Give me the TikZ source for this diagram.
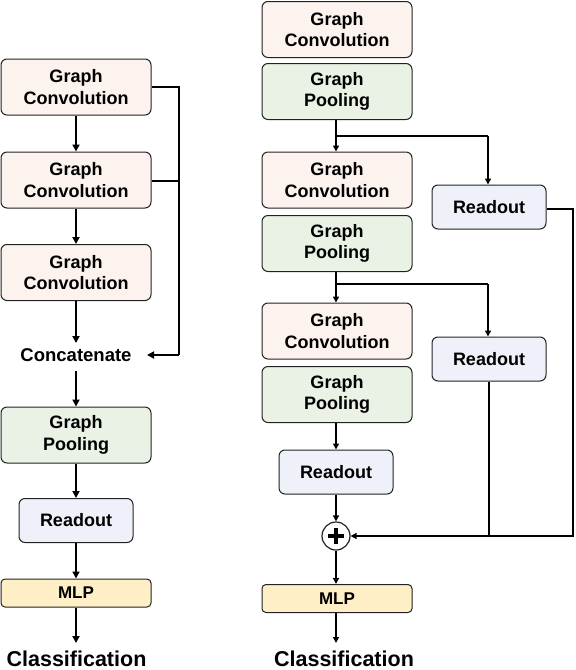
\documentclass[tikz,border=0pt]{standalone}
\usepackage{fontspec}
\setmainfont{Liberation Sans}
\usetikzlibrary{arrows.meta}
\definecolor{convc}{HTML}{FCF3EE}
\definecolor{poolc}{HTML}{EAF2E6}
\definecolor{readc}{HTML}{EEF1F9}
\definecolor{mlpc}{HTML}{FEEFC6}
\definecolor{edgec}{HTML}{222222}
\begin{document}
\begin{tikzpicture}[x=1pt,y=-1pt,
  blk/.style={draw=edgec,line width=1pt,rounded corners=6pt,align=center,inner sep=0pt,
    font=\fontsize{18}{21.5}\selectfont\bfseries},
  conv/.style={blk,fill=convc,minimum width=150pt,minimum height=56pt},
  pool/.style={blk,fill=poolc,minimum width=150pt,minimum height=56pt},
  rd/.style={blk,fill=readc,minimum width=114pt,minimum height=44pt},
  mlp/.style={blk,fill=mlpc,minimum width=150pt,minimum height=28pt,rounded corners=4pt,
    font=\fontsize{17}{18}\selectfont\bfseries},
  lbl/.style={inner sep=0pt,outer sep=0pt,font=\fontsize{18.5}{21}\selectfont\bfseries},
  cls/.style={inner sep=0pt,anchor=base,font=\fontsize{21.5}{24}\selectfont\bfseries},
  thin/.style={line width=1.8pt,-{Triangle[length=7pt,width=7pt]}},
  thick/.style={line width=2.6pt,-{Triangle[length=6pt,width=6pt]}},
  plain/.style={line width=1.8pt},
  plainthick/.style={line width=2.6pt}
]
\useasboundingbox (0,0) rectangle (576,670);
% ---------- left column ----------
\node[conv] (L1) at (76,87) {Graph\\Convolution};
\node[conv] (L2) at (76,180) {Graph\\Convolution};
\node[conv] (L3) at (76,272.5) {Graph\\Convolution};
\node[lbl] (LC) at (76,355) {Concatenate};
\node[pool] (LP) at (76,435) {Graph\\Pooling};
\node[rd] (LR) at (76,520.5) {Readout};
\node[mlp] (LM) at (76,593) {MLP};
\node[cls] (LCl) at (76.5,666) {Classification};
\coordinate (lcin) at (76,343);
\coordinate (lcout) at (76,371);
\coordinate (lclin) at (76,643);
\coordinate (busT) at (179,87);
\coordinate (busM) at (179,181);
\coordinate (busB) at (179,355);
\coordinate (lcin2) at (147,355);
\draw[thin] (L1) -- (L2);
\draw[thin] (L2) -- (L3);
\draw[thin] (L3.south) -- (lcin);
\draw[thin] (lcout) -- (LP.north);
\draw[thin] (LP) -- (LR);
\draw[thin] (LR) -- (LM);
\draw[thin] (LM.south) -- (lclin);
\draw[plain] (L1.east) -- (busT) -- (busB);
\draw[plain] ([yshift=-1pt]L2.east) -- (busM);
\draw[thin] (busB) -- (lcin2);
% ---------- right column ----------
\node[conv] (R1) at (337,29.5) {Graph\\Convolution};
\node[pool] (R2) at (337,91.5) {Graph\\Pooling};
\node[conv] (R3) at (337,180) {Graph\\Convolution};
\node[pool] (R4) at (337,243.5) {Graph\\Pooling};
\node[conv] (R5) at (337,331) {Graph\\Convolution};
\node[pool] (R6) at (337,394.5) {Graph\\Pooling};
\node[rd] (R7) at (336,472) {Readout};
\node[draw=edgec,line width=1.2pt,circle,fill=white,minimum size=28pt,inner sep=0pt] (PL) at (336,536) {};
\draw[line width=3.2pt] ([yshift=-8pt]PL.center) -- ([yshift=8pt]PL.center);
\draw[line width=3.2pt] ([xshift=-8pt]PL.center) -- ([xshift=8pt]PL.center);
\node[mlp] (RM) at (337,598.5) {MLP};
\node[cls] (RCl) at (344,666) {Classification};
\coordinate (rclin) at (336,643);
\node[rd] (RA) at (489,207) {Readout};
\node[rd] (RB) at (489,359) {Readout};
\coordinate (b1) at (336,136);
\coordinate (b1r) at (488,136);
\coordinate (b2) at (336,284);
\coordinate (b2r) at (488,284);
\coordinate (ra1) at (573,209);
\coordinate (ra2) at (573,536);
\coordinate (rb2) at (489,536);
\draw[thick] ([xshift=-1pt]R2.south) -- ([xshift=-1pt]R3.north);
\draw[plainthick] (b1) -- (b1r);
\draw[thick] (b1r) -- (RA.north-|b1r);
\draw[thick] ([xshift=-1pt]R4.south) -- ([xshift=-1pt]R5.north);
\draw[plainthick] (b2) -- (b2r);
\draw[thick] (b2r) -- (RB.north-|b2r);
\draw[thick] ([xshift=-1pt]R6.south) -- (R7.north);
\draw[thick] (R7.south) -- (PL.north);
\draw[thick] (PL.south) -- ([xshift=-1pt]RM.north);
\draw[thick] ([xshift=-1pt]RM.south) -- (rclin);
\draw[plain] ([yshift=-2pt]RA.east) -- (ra1) -- (ra2) -- (rb2);
\draw[plain] (RB.south) -- (rb2);
\draw[thick] (rb2) -- (PL.east);
\end{tikzpicture}
\end{document}
